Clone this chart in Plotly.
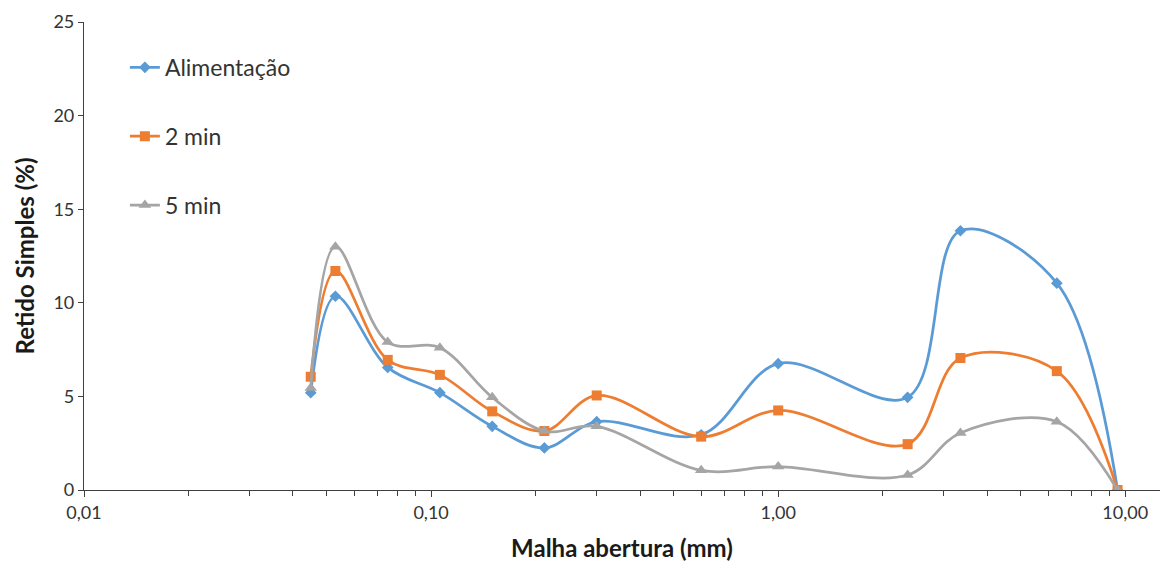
import numpy as np
import plotly.graph_objects as go

# Sieve openings (mm)
abertura = [0.045, 0.053, 0.075, 0.106, 0.150, 0.212, 0.300, 0.600, 1.00, 2.36, 3.35, 6.35, 9.50]

# Percent retained on each sieve
alimentacao = [5.2, 10.35, 6.55, 5.2, 3.4, 2.25, 3.65, 2.95, 6.75, 4.95, 13.85, 11.05, 0.0]
min2 = [6.05, 11.7, 6.95, 6.15, 4.2, 3.15, 5.05, 2.85, 4.25, 2.45, 7.05, 6.35, 0.0]
min5 = [5.45, 13.0, 7.9, 7.6, 4.95, 3.15, 3.4, 1.05, 1.25, 0.8, 3.05, 3.65, 0.0]

series = [
    ("Alimentação", alimentacao, "#5B9BD5", "diamond", 9),
    ("2 min", min2, "#ED7D31", "square", 10),
    ("5 min", min5, "#A5A5A5", "triangle-up", 11),
]

x_tickvals = [0.01, 0.1, 1, 10]
x_ticktext = ["0,01", "0,10", "1,00", "10,00"]
minor_vals = [m * 10.0 ** d for d in (-2, -1, 0, 1) for m in range(2, 10)]

fig = go.Figure()
for i, (name, vals, color, symbol, size) in enumerate(series):
    fig.add_trace(go.Scatter(
        x=abertura, y=vals, name=name, mode="lines+markers",
        line=dict(color=color, width=2.75, shape="spline", smoothing=1.0),
        marker=dict(symbol=symbol, size=size, color=color),
        legendgroup=f"g{i}",
    ))

font_family = "Lato, 'Open Sans', sans-serif"
text_color = "#333333"

fig.update_layout(
    width=1161, height=562,
    margin=dict(l=84, r=1, t=22, b=72),
    paper_bgcolor="white", plot_bgcolor="white",
    font=dict(family=font_family, color=text_color),
    showlegend=True,
    legend=dict(
        x=0.038, y=0.949, xanchor="left", yanchor="top",
        font=dict(size=23, color=text_color),
        tracegroupgap=36, bgcolor="rgba(0,0,0,0)",
    ),
    xaxis=dict(
        type="log", range=[-2, 1.1],
        tickvals=x_tickvals, ticktext=x_ticktext,
        ticks="outside", ticklen=6, tickcolor="#404040",
        tickfont=dict(size=18, color=text_color),
        showline=True, linecolor="#404040", linewidth=1.2,
        showgrid=False, zeroline=False,
        minor=dict(tickvals=minor_vals, ticks="outside", ticklen=5,
                   tickcolor="#404040", showgrid=False),
        title=dict(text="<b>Malha abertura (mm)</b>",
                   font=dict(size=24, color="#1a1a1a"), standoff=20),
    ),
    yaxis=dict(
        range=[0, 25], tickvals=[0, 5, 10, 15, 20, 25],
        ticks="outside", ticklen=5, tickcolor="#404040",
        tickfont=dict(size=18, color=text_color),
        showline=True, linecolor="#404040", linewidth=1.2,
        showgrid=False, zeroline=False,
        title=dict(text="<b>Retido Simples (%)</b>",
                   font=dict(size=24, color="#1a1a1a"), standoff=12),
    ),
)

fig.write_html("out.html")
